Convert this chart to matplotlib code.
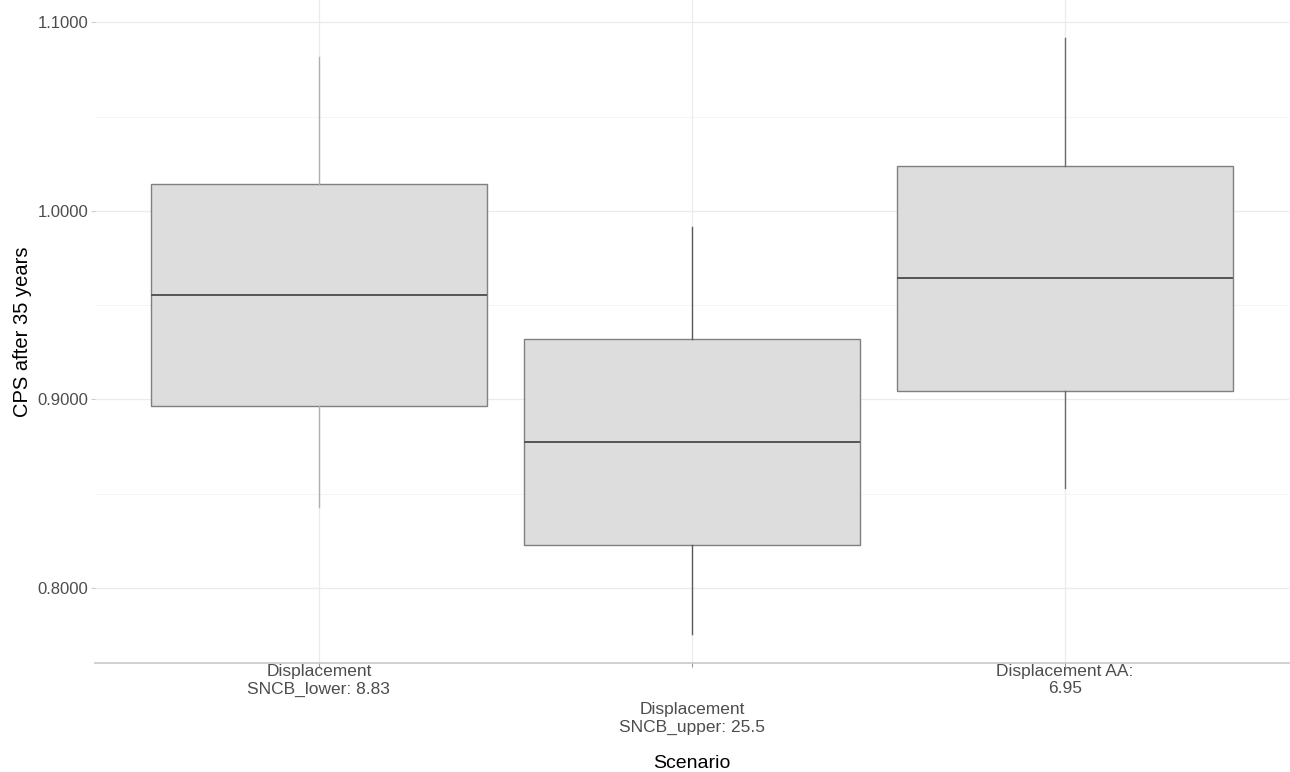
import matplotlib
matplotlib.use('Agg')
import matplotlib.pyplot as plt
from matplotlib.ticker import MultipleLocator, FormatStrFormatter

# box statistics
scenarios = ['Displacement\nSNCB_lower: 8.83',
             'Displacement\nSNCB_upper: 25.5',
             'Displacement AA:\n6.95']
whisker_low = [0.8430, 0.7758, 0.8528]
q1 = [0.8966, 0.8228, 0.9045]
median = [0.9554, 0.8775, 0.9645]
q3 = [1.0143, 0.9321, 1.0239]
whisker_high = [1.0818, 0.9915, 1.0915]

whisker_colors = ['#b0b0b0', '#5a5a5a', '#6a6a6a']

plt.rcParams['font.family'] = ['Liberation Sans', 'DejaVu Sans']

fig = plt.figure(figsize=(12.9, 7.72), dpi=100)
ax = fig.add_axes([95 / 1290, 1 - 663 / 772, 1194 / 1290, 663 / 772])

stats = []
for i in range(len(scenarios)):
	stats.append({'whislo': whisker_low[i], 'q1': q1[i], 'med': median[i],
	              'q3': q3[i], 'whishi': whisker_high[i], 'fliers': []})

pos = list(range(1, len(scenarios) + 1))
bp = ax.bxp(stats, positions=pos, widths=0.9, patch_artist=True,
            showcaps=False, showfliers=False, zorder=3,
            boxprops=dict(facecolor='#dddddd', edgecolor='#808080', linewidth=1.0),
            medianprops=dict(color='#555555', linewidth=1.4),
            whiskerprops=dict(linewidth=1.0))
for i, c in enumerate(whisker_colors):
	bp['whiskers'][2 * i].set_color(c)
	bp['whiskers'][2 * i + 1].set_color(c)

ax.set_xlim(0.4, 3.6)
ax.set_ylim(0.7602, 1.1119)
ax.yaxis.set_major_locator(MultipleLocator(0.1))
ax.yaxis.set_minor_locator(MultipleLocator(0.05))
ax.yaxis.set_major_formatter(FormatStrFormatter('%.4f'))

ax.grid(True, which='major', color='#ebebeb', linewidth=0.9, zorder=0)
ax.grid(True, which='minor', axis='y', color='#f3f3f3', linewidth=0.6, zorder=0)
ax.set_axisbelow(True)

for s in ['top', 'right', 'left']:
	ax.spines[s].set_visible(False)
ax.spines['bottom'].set_color('#c8c8c8')
ax.spines['bottom'].set_linewidth(1.2)

ax.set_xticks(pos)
ax.set_xticklabels([])
ax.tick_params(axis='y', which='major', length=3, color='#cccccc', labelsize=12,
               labelcolor='#4d4d4d', pad=2)
ax.tick_params(axis='y', which='minor', length=0)
ax.tick_params(axis='x', length=3, color='#999999')

# dodged x labels (every second one lower)
for i, lab in enumerate(scenarios):
	off = 0 if i % 2 == 0 else 38
	ax.annotate(lab, xy=(pos[i], 0), xycoords=('data', 'axes fraction'),
	            xytext=(0, (-1 - off) * 0.72), textcoords='offset points',
	            ha='center', va='top', fontsize=12.5, color='#4d4d4d',
	            linespacing=1.2)

ax.set_ylabel('CPS after 35 years', fontsize=14.5, color='black', labelpad=4)
fig.text(692 / 1290, 1 - 763 / 772, 'Scenario', ha='center', va='center',
         fontsize=14, color='black')

fig.savefig('out.png', dpi=100)
